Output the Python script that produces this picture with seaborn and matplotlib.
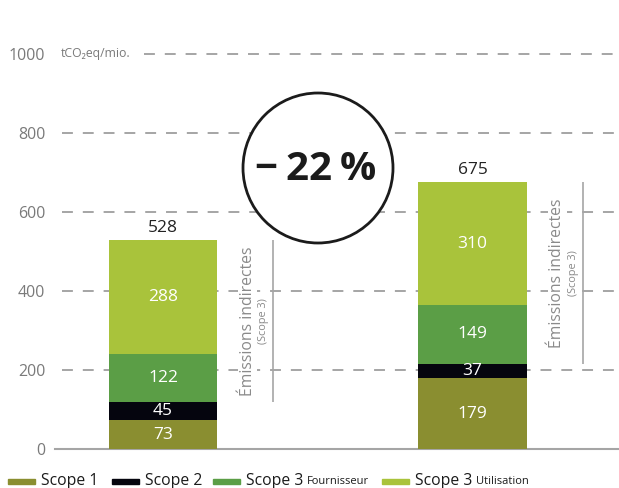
import matplotlib
matplotlib.use("Agg")
import matplotlib.pyplot as plt
import seaborn as sns
import pandas as pd
from matplotlib.patches import Ellipse, Rectangle

# data
bars = ["2019", "2023"]
scope1 = [73, 179]
scope2 = [45, 37]
scope3_fournisseur = [122, 149]
scope3_utilisation = [288, 310]
yticks = [0, 200, 400, 600, 800, 1000]
reduction_label = "\u2212\u200922\u2009%"

colors = {
    "Scope 1": "#8a8e30",
    "Scope 2": "#05050e",
    "Scope 3 Fournisseur": "#5b9e46",
    "Scope 3 Utilisation": "#a9c33b",
}

df = pd.DataFrame({
    "bar": bars,
    "Scope 1": scope1,
    "Scope 2": scope2,
    "Scope 3 Fournisseur": scope3_fournisseur,
    "Scope 3 Utilisation": scope3_utilisation,
})
layers = list(colors.keys())
cum = df[layers].cumsum(axis=1)
totals = cum["Scope 3 Utilisation"]

sns.set_style("white")
plt.rcParams["font.family"] = ["Open Sans", "DejaVu Sans"]

fig = plt.figure(figsize=(6.19, 4.88), dpi=100)
ax = fig.add_axes([55 / 619, 39 / 488, 1 - 55 / 619, (449 - 54) / 488])

# stacked bars: draw cumulative totals from top layer down
for layer in reversed(layers):
    sns.barplot(x=df["bar"], y=cum[layer], color=colors[layer], width=0.35,
                saturation=1, linewidth=0, ax=ax, zorder=3)

ax.set_xlim(-0.349, 1.473)
ax.set_ylim(0, 1000)
ax.set_xlabel("")
ax.set_ylabel("")
ax.set_xticks([])
ax.set_yticks(yticks)
ax.set_yticklabels([str(t) for t in yticks], fontsize=11.5, color="#7a7a7a")
ax.tick_params(axis="y", length=0, pad=7)
for s in ["top", "right", "left"]:
    ax.spines[s].set_visible(False)
ax.spines["bottom"].set_color("#a5a5a5")
ax.spines["bottom"].set_linewidth(1.5)

grid_kw = dict(color="#a5a5a5", lw=1.4, linestyles=(0, (5.6, 5.1)), zorder=1)
ax.hlines([200, 400, 600, 800], -0.326, 1.473, **grid_kw)
ax.hlines([1000], -0.063, 1.473, clip_on=False, **grid_kw)
ax.text(-0.329, 1000, "tCO\u2082eq/mio.", fontsize=8.8, color="#7a7a7a",
        va="center", ha="left")

# segment values
for i in range(len(bars)):
    bottom = 0
    for layer in layers:
        v = df.loc[i, layer]
        ax.text(i, bottom + v / 2, str(v), ha="center", va="center",
                color="white", fontsize=12.5, zorder=5)
        bottom += v
    ax.text(i, totals[i] + 10, str(totals[i]), ha="center", va="bottom",
            color="#222222", fontsize=12.5, zorder=5)

# scope 3 brackets (text sits on white, hiding the grid behind it)
for i in range(len(bars)):
    lo = scope1[i] + scope2[i]
    hi = totals[i]
    mid = (lo + hi) / 2
    ax.vlines(i + 0.356, lo, hi, color="#a5a5a5", lw=1.2, zorder=4)
    ax.text(i + 0.273, mid, "\u00c9missions indirectes", rotation=90,
            ha="center", va="center", fontsize=11.3, color="#8a8a8a", zorder=4,
            bbox=dict(facecolor="white", edgecolor="none", pad=1))
    ax.text(i + 0.325, mid, "(Scope 3)", rotation=90, ha="center",
            va="center", fontsize=7.8, color="#8a8a8a", zorder=4,
            bbox=dict(facecolor="white", edgecolor="none", pad=2))

# reduction circle
circ = Ellipse((318 / 619, 1 - 168 / 488), 150 / 619, 150 / 488,
               transform=fig.transFigure, facecolor="white", edgecolor="#1b1b1b",
               lw=2, zorder=6)
fig.patches.append(circ)
fig.text(316 / 619, 1 - 170 / 488, reduction_label, ha="center", va="center",
         fontsize=29, fontweight="bold", color="#1b1b1b", zorder=7)

# legend drawn manually along the bottom
legend_items = [
    (8, "Scope 1", "", colors["Scope 1"]),
    (112, "Scope 2", "", colors["Scope 2"]),
    (213, "Scope 3", "Fournisseur", colors["Scope 3 Fournisseur"]),
    (382, "Scope 3", "Utilisation", colors["Scope 3 Utilisation"]),
]
ly = 1 - 481 / 488
renderer = fig.canvas.get_renderer()
for px, big, small, c in legend_items:
    fig.patches.append(Rectangle((px / 619, ly - 2.5 / 488), 27 / 619, 5 / 488,
                                 transform=fig.transFigure, color=c))
    t = fig.text((px + 33) / 619, ly, big, fontsize=11.3, va="center",
                 ha="left", color="#1b1b1b")
    if small:
        bb = t.get_window_extent(renderer=renderer)
        fig.text((bb.x1 + 4) / 619, ly - 1 / 488, small, fontsize=8,
                 va="center", ha="left", color="#1b1b1b")

fig.savefig("out.png", dpi=100)
